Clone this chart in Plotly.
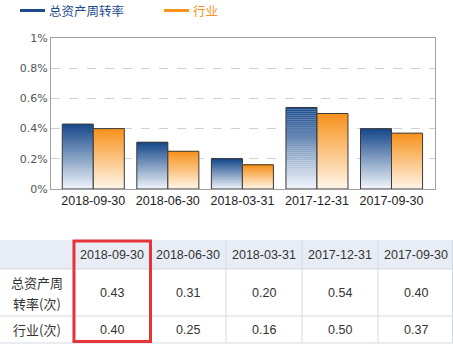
import plotly.graph_objects as go

# ---- data ----
periods = ["2018-09-30", "2018-06-30", "2018-03-31", "2017-12-31", "2017-09-30"]
company_turnover = [0.43, 0.31, 0.20, 0.54, 0.40]
industry_turnover = [0.40, 0.25, 0.16, 0.50, 0.37]
series_names = ["总资产周转率", "行业"]
row_labels = [["总资产周", "转率(次)"], ["行业(次)"]]
y_ticks = [0, 0.2, 0.4, 0.6, 0.8, 1.0]
y_tick_text = ["0%", "0.2%", "0.4%", "0.6%", "0.8%", "1%"]

W, H = 453, 346


def px(x):
    return x / W


def py(y):
    return 1 - y / H


def mix(c1, c2, t):
    return "rgb(%d,%d,%d)" % tuple(round(a + (b - a) * t) for a, b in zip(c1, c2))


BLUE_TOP, BLUE_BOTTOM = (22, 72, 138), (242, 246, 252)
ORANGE_TOP, ORANGE_BOTTOM = (247, 146, 28), (255, 247, 236)
BLUE_TEXT, ORANGE_TEXT = "#1d4c8c", "#f7941d"

fig = go.Figure()

# vertical gradient bars: each bar is stacked from thin slices of its own value
N_SLICES = 40
for vals, top, bottom, grp in [
    (company_turnover, BLUE_TOP, BLUE_BOTTOM, "a"),
    (industry_turnover, ORANGE_TOP, ORANGE_BOTTOM, "b"),
]:
    for k in range(N_SLICES):
        t = 1 - (k + 0.5) / N_SLICES  # 0 at top, 1 at bottom
        fig.add_trace(go.Bar(
            x=periods,
            y=[v / N_SLICES * 1.02 for v in vals],
            base=[v * k / N_SLICES for v in vals],
            offsetgroup=grp,
            marker=dict(color=mix(top, bottom, t), line=dict(width=0)),
            showlegend=False,
            hoverinfo="skip",
        ))
    # outline of the full bar
    fig.add_trace(go.Bar(
        x=periods,
        y=vals,
        offsetgroup=grp,
        marker=dict(color="rgba(0,0,0,0)", line=dict(color="#3a3a3a", width=1)),
        showlegend=False,
    ))

fig.update_layout(
    width=W,
    height=H,
    margin=dict(l=0, r=0, t=0, b=0),
    paper_bgcolor="white",
    plot_bgcolor="white",
    barmode="group",
    bargap=0.168,
    bargroupgap=0,
    showlegend=False,
    xaxis=dict(
        domain=[px(51), px(435)],
        type="category",
        range=[-0.567, 4.583],
        showline=True,
        linecolor="#a0a0a0",
        linewidth=1,
        mirror=True,
        showgrid=False,
        ticks="",
        tickfont=dict(family="Liberation Sans, Arial, sans-serif", size=12.5, color="#222"),
        automargin=False,
    ),
    yaxis=dict(
        domain=[py(189), py(38)],
        range=[0, 1],
        tickvals=y_ticks,
        ticktext=y_tick_text,
        showline=True,
        linecolor="#a0a0a0",
        linewidth=1,
        mirror=True,
        showgrid=True,
        gridcolor="#d0d0d0",
        griddash="dash",
        zeroline=False,
        ticks="",
        tickfont=dict(family="DejaVu Sans, Verdana, sans-serif", size=11, color="#555"),
        automargin=False,
    ),
)

shapes = []
annotations = []

# legend
for (x0, x1, tx, color, name) in [
    (20, 45, 47, BLUE_TEXT, series_names[0]),
    (164, 189, 191, ORANGE_TEXT, series_names[1]),
]:
    shapes.append(dict(type="line", xref="paper", yref="paper",
                       x0=px(x0), x1=px(x1), y0=py(10.5), y1=py(10.5),
                       line=dict(color=color, width=3)))
    annotations.append(dict(xref="paper", yref="paper", x=px(tx), y=py(11),
                            xanchor="left", yanchor="middle", showarrow=False,
                            text=name,
                            font=dict(family="Noto Sans CJK SC", size=12.5, color=color)))

# data table below the chart
col_edges = [0, 73, 150, 226, 302, 378, 453]
row_edges = [240, 269, 316, 343]
GRID = "#d3d9e3"

shapes.append(dict(type="rect", xref="paper", yref="paper",
                   x0=px(0), x1=px(W), y0=py(row_edges[0]), y1=py(row_edges[1]),
                   fillcolor="#e8edf5", line=dict(width=0), layer="below"))
for y in row_edges[1:]:
    shapes.append(dict(type="line", xref="paper", yref="paper",
                       x0=px(0), x1=px(W), y0=py(y), y1=py(y),
                       line=dict(color=GRID, width=1)))
for x in col_edges[1:]:
    xx = min(x, W - 0.5)
    shapes.append(dict(type="line", xref="paper", yref="paper",
                       x0=px(xx), x1=px(xx), y0=py(row_edges[0]), y1=py(row_edges[-1]),
                       line=dict(color=GRID, width=1)))

table_font = dict(family="Liberation Sans, Arial, sans-serif", size=12.5, color="#333")
label_font = dict(family="Noto Sans CJK SC", size=13, color="#333")

row_centers = [(row_edges[i] + row_edges[i + 1]) / 2 for i in range(3)]
for j, period in enumerate(periods):
    cx = (col_edges[j + 1] + col_edges[j + 2]) / 2
    annotations.append(dict(xref="paper", yref="paper", x=px(cx), y=py(row_centers[0]),
                            text=period, showarrow=False, font=table_font,
                            xanchor="center", yanchor="middle"))
    for r, vals in enumerate([company_turnover, industry_turnover]):
        annotations.append(dict(xref="paper", yref="paper", x=px(cx), y=py(row_centers[r + 1]),
                                text=f"{vals[j]:.2f}", showarrow=False, font=table_font,
                                xanchor="center", yanchor="middle"))

# row labels, one annotation per text line
LINE_STEP = 21
for r, lines in enumerate(row_labels):
    first = row_centers[r + 1] - LINE_STEP * (len(lines) - 1) / 2
    for i, line in enumerate(lines):
        annotations.append(dict(xref="paper", yref="paper", x=px(col_edges[1] / 2),
                                y=py(first + i * LINE_STEP), text=line, showarrow=False,
                                font=label_font, xanchor="center", yanchor="middle"))

# highlight of the latest period column
shapes.append(dict(type="rect", xref="paper", yref="paper",
                   x0=px(74), x1=px(150.5), y0=py(241), y1=py(341.5),
                   line=dict(color="#e6343a", width=3)))

fig.update_layout(shapes=shapes, annotations=annotations)

fig.write_html("out.html")
